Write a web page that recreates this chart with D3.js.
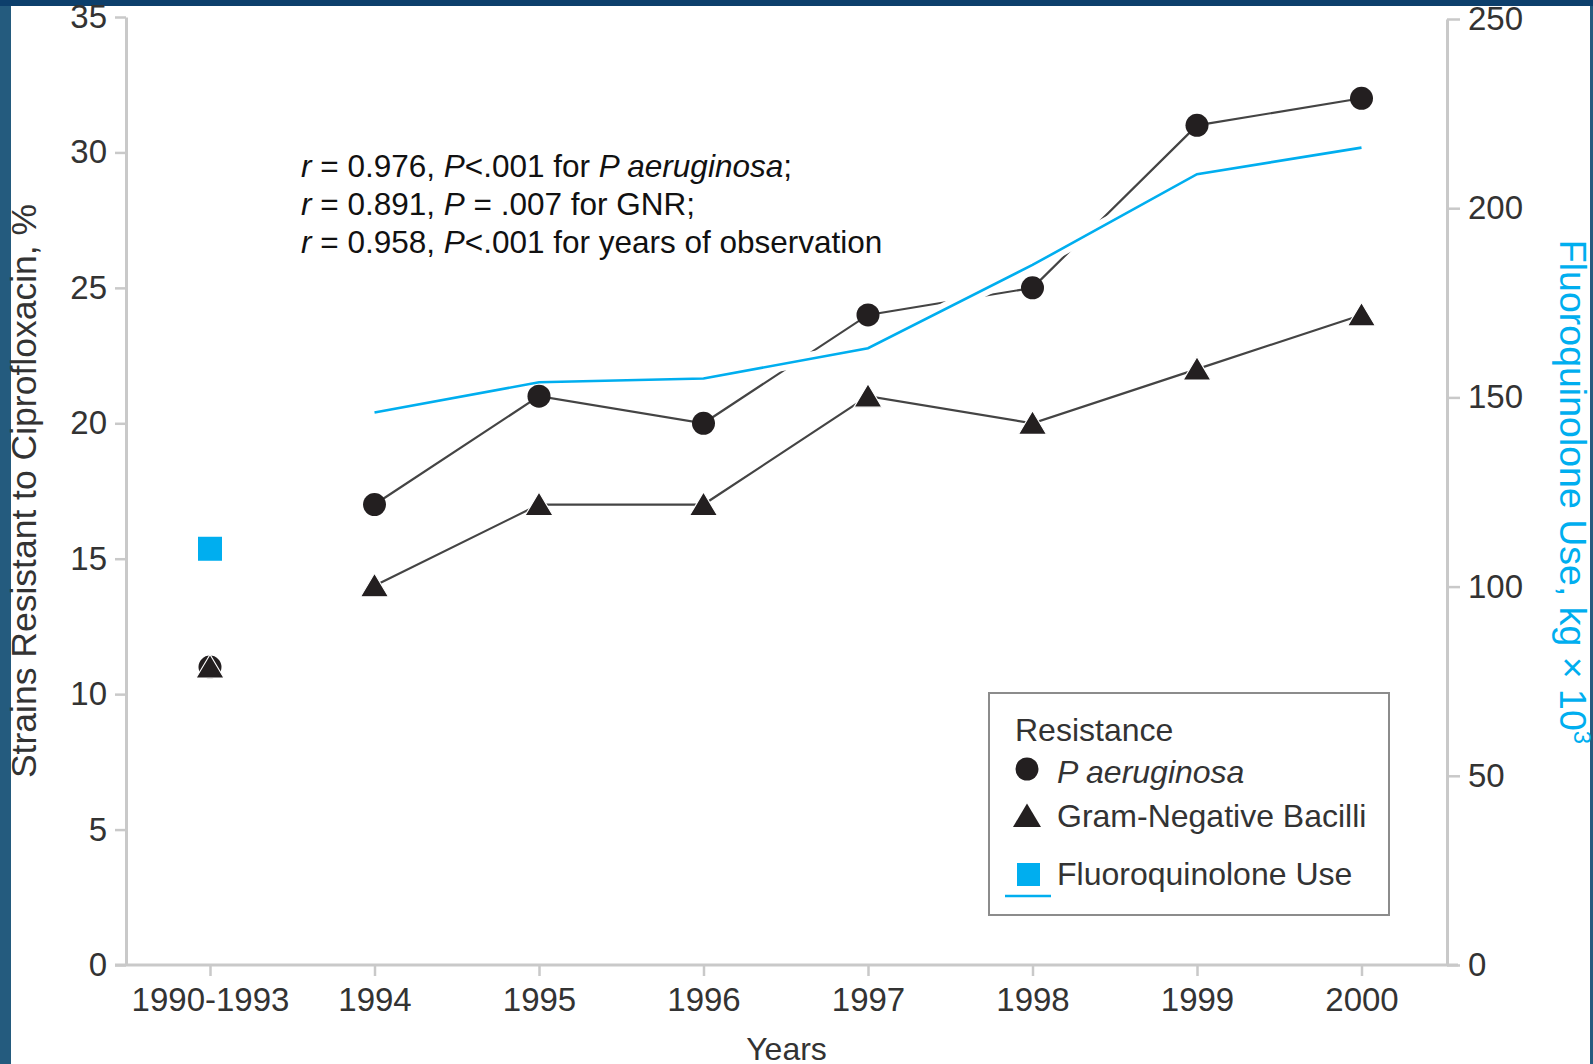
<!DOCTYPE html>
<html>
<head>
<meta charset="utf-8">
<script src="https://cdn.jsdelivr.net/npm/d3@7"></script>
<style>
  html, body { margin: 0; padding: 0; background: #fff; }
  svg { display: block; }
  text { font-family: "Liberation Sans", Arial, Helvetica, sans-serif; }
</style>
</head>
<body>
<svg id="chart" width="1593" height="1064"></svg>
<script>
// Observation periods
const years = ["1990-1993", "1994", "1995", "1996", "1997", "1998", "1999", "2000"];
// Strains resistant to ciprofloxacin, %
const pAeruginosa = [11, 17, 21, 20, 24, 25, 31, 32];
const gramNegative = [11, 14, 17, 17, 21, 20, 22, 24];
// Fluoroquinolone use, kg x 10^3
const fluoroquinoloneUse = [110, 146, 154, 155, 163, 185, 209, 216];
// Axis ticks
const leftTicks = [0, 5, 10, 15, 20, 25, 30, 35];
const rightTicks = [0, 50, 100, 150, 200, 250];
// Legend labels
const legendTitle = "Resistance";
const legendLabels = ["P aeruginosa", "Gram-Negative Bacilli", "Fluoroquinolone Use"];

const W = 1593, H = 1064;
const plotLeft = 126, plotRight = 1447, plotTop = 17, plotBottom = 965;
const ink = "#333";
const blue = "#00aeef";

const svg = d3.select("#chart");

// slide frame
svg.append("rect").attr("x", 0).attr("y", 0).attr("width", W).attr("height", H).attr("fill", "#fff");
svg.append("rect").attr("x", 0).attr("y", 0).attr("width", 11).attr("height", H).attr("fill", "#245b7e");
svg.append("rect").attr("x", W - 3).attr("y", 0).attr("width", 3).attr("height", H).attr("fill", "#245b7e");
svg.append("rect").attr("x", 0).attr("y", 0).attr("width", W).attr("height", 6).attr("fill", "#0d3f6c");

const x = d3.scalePoint().domain(years).range([210, 1361.5]);
const yL = d3.scaleLinear().domain([0, 35]).range([plotBottom, plotTop]);
const yR = d3.scaleLinear().domain([0, 250]).range([plotBottom, 19]);

const axisColor = "#c9c9c9";

function styleAxis(g) {
  g.selectAll("path.domain").attr("stroke", axisColor).attr("stroke-width", 3);
  g.selectAll(".tick line").attr("stroke", axisColor).attr("stroke-width", 2.5);
  g.selectAll(".tick text").attr("fill", ink).attr("font-size", 33)
    .attr("font-family", "'Liberation Sans', Arial, sans-serif");
}

// left axis
const gL = svg.append("g").attr("transform", `translate(${plotLeft},0)`)
  .call(d3.axisLeft(yL).tickValues(leftTicks).tickSize(11).tickSizeOuter(0).tickPadding(8));
styleAxis(gL);

// right axis
const gR = svg.append("g").attr("transform", `translate(${plotRight},0)`)
  .call(d3.axisRight(yR).tickValues(rightTicks).tickSize(13).tickSizeOuter(0).tickPadding(8));
styleAxis(gR);

// bottom axis
const gB = svg.append("g").attr("transform", `translate(0,${plotBottom})`)
  .call(d3.axisBottom(x).tickSize(11).tickPadding(12));
gB.select("path.domain").remove();
styleAxis(gB);
gB.append("line").attr("x1", plotLeft - 11).attr("x2", plotRight + 11).attr("y1", 0).attr("y2", 0)
  .attr("stroke", axisColor).attr("stroke-width", 3);

// axis titles
svg.append("text")
  .attr("transform", `translate(36,491) rotate(-90)`)
  .attr("text-anchor", "middle").attr("font-size", 35.5).attr("fill", ink)
  .text("Strains Resistant to Ciprofloxacin, %");

svg.append("text")
  .attr("transform", `translate(1560,492) rotate(90)`)
  .attr("text-anchor", "middle").attr("font-size", 37.5).attr("fill", blue)
  .call(t => {
    t.append("tspan").text("Fluoroquinolone Use, kg \u00d7 10");
    t.append("tspan").attr("font-size", 24).attr("dy", -14).text("3");
  });

svg.append("text")
  .attr("x", (plotLeft + plotRight) / 2).attr("y", 1060)
  .attr("text-anchor", "middle").attr("font-size", 32).attr("fill", ink)
  .text("Years");

// correlation note
const note = svg.append("g").attr("font-size", 31.5).attr("fill", "#111");
const noteLines = [
  [["r", true], [" = 0.976, ", false], ["P", true], ["<.001 for ", false], ["P aeruginosa", true], [";", false]],
  [["r", true], [" = 0.891, ", false], ["P", true], [" = .007 for GNR;", false]],
  [["r", true], [" = 0.958, ", false], ["P", true], ["<.001 for years of observation", false]]
];
noteLines.forEach((parts, i) => {
  const t = note.append("text").attr("x", 301).attr("y", 177 + i * 38);
  parts.forEach(([s, it]) => t.append("tspan").attr("font-style", it ? "italic" : "normal").text(s));
});

// connecting lines (1994 onward)
const later = years.slice(1);
const lineL = d3.line().x(d => x(d[0])).y(d => yL(d[1]));
const lineR = d3.line().x(d => x(d[0])).y(d => yR(d[1]));
const zipped = arr => later.map((yr, i) => [yr, arr[i + 1]]);

[pAeruginosa, gramNegative].forEach(series => {
  svg.append("path").attr("d", lineL(zipped(series)))
    .attr("fill", "none").attr("stroke", "#444").attr("stroke-width", 2.2);
});

// fluoroquinolone line with a white knock-out underneath
svg.append("path").attr("d", lineR(zipped(fluoroquinoloneUse)))
  .attr("fill", "none").attr("stroke", "#fff").attr("stroke-width", 14);
svg.append("path").attr("d", lineR(zipped(fluoroquinoloneUse)))
  .attr("fill", "none").attr("stroke", blue).attr("stroke-width", 2.6);

// marker shapes
const triPath = "M0,-12.5L14,11L-14,11Z";
const markFill = "#231f20";

// fluoroquinolone square for 1990-1993
svg.append("rect")
  .attr("x", x(years[0]) - 12).attr("y", yR(fluoroquinoloneUse[0]) - 12)
  .attr("width", 24).attr("height", 24).attr("fill", blue);

svg.append("g").selectAll("circle").data(years).join("circle")
  .attr("cx", d => x(d)).attr("cy", (d, i) => yL(pAeruginosa[i]))
  .attr("r", 11.5).attr("fill", markFill);

svg.append("g").selectAll("path").data(years).join("path")
  .attr("d", triPath)
  .attr("transform", (d, i) => `translate(${x(d)},${yL(gramNegative[i])})`)
  .attr("fill", markFill).attr("stroke", "#fff").attr("stroke-width", 1.2);

// legend
const lg = svg.append("g").attr("font-size", 32).attr("fill", ink);
lg.append("rect").attr("x", 989).attr("y", 693).attr("width", 400).attr("height", 222)
  .attr("fill", "#fff").attr("stroke", "#8c8c8c").attr("stroke-width", 2);
lg.append("text").attr("x", 1015).attr("y", 741).text(legendTitle);
lg.append("circle").attr("cx", 1027).attr("cy", 769).attr("r", 11.5).attr("fill", markFill);
lg.append("text").attr("x", 1057).attr("y", 783).attr("font-style", "italic").text(legendLabels[0]);
lg.append("path").attr("d", triPath).attr("transform", "translate(1027,816)").attr("fill", markFill);
lg.append("text").attr("x", 1057).attr("y", 827).text(legendLabels[1]);
lg.append("rect").attr("x", 1017).attr("y", 863).attr("width", 23).attr("height", 23).attr("fill", blue);
lg.append("line").attr("x1", 1005).attr("x2", 1051).attr("y1", 896).attr("y2", 896)
  .attr("stroke", blue).attr("stroke-width", 2.6);
lg.append("text").attr("x", 1057).attr("y", 885).text(legendLabels[2]);
</script>
</body>
</html>
